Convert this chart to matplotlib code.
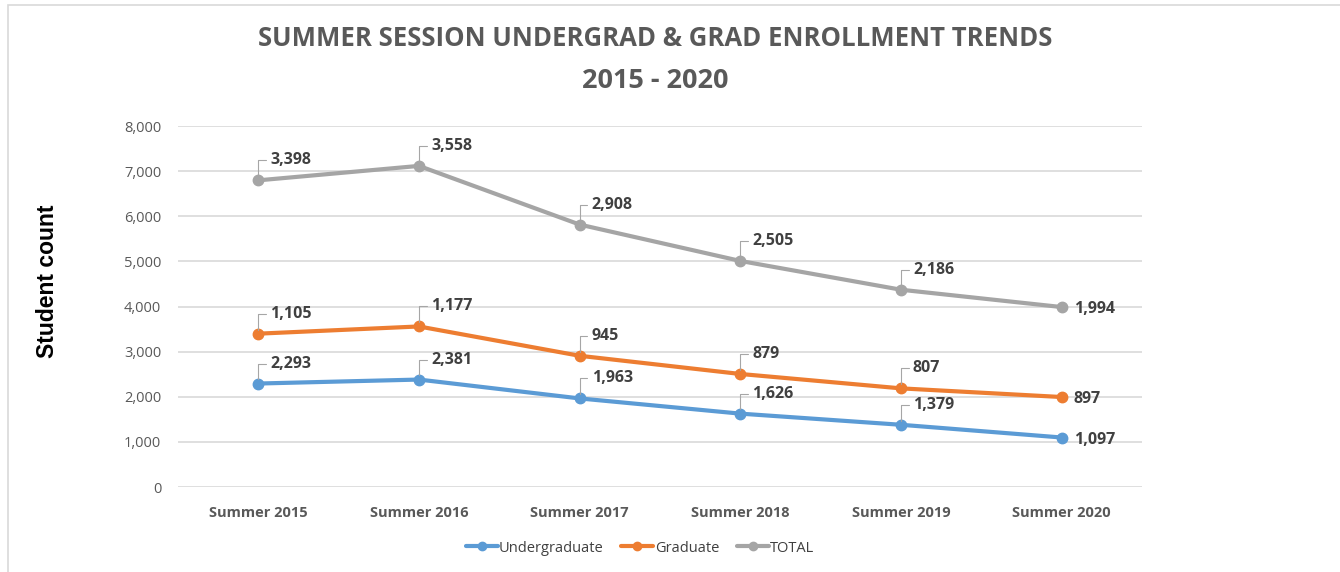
import matplotlib
matplotlib.use('Agg')
import matplotlib.pyplot as plt
from matplotlib.patches import Rectangle
from matplotlib.ticker import FuncFormatter
import numpy as np

# 数据
years = ['Summer 2015', 'Summer 2016', 'Summer 2017', 'Summer 2018', 'Summer 2019', 'Summer 2020']
undergrad = [2293, 2381, 1963, 1626, 1379, 1097]
graduate = [1105, 1177, 945, 879, 807, 897]
total = [3398, 3558, 2908, 2505, 2186, 1994]

names = ['Undergraduate', 'Graduate', 'TOTAL']
colors = ['#5B9BD5', '#ED7D31', '#A5A5A5']

narrow = ['Liberation Sans Narrow', 'Open Sans', 'DejaVu Sans']

fig = plt.figure(figsize=(13.4, 5.72), dpi=100)
ax = fig.add_axes([0.1328, 0.1486, 0.7194, 0.6311])

# Excel "stacked line": each series sits on top of the one before
x = np.arange(len(years))
series = [undergrad, graduate, total]
base = np.zeros(len(years))
for vals, name, c in zip(series, names, colors):
    top = base + np.array(vals)
    ax.plot(x, top, color=c, lw=3, marker='o', ms=7.5, label=name,
            solid_capstyle='round', zorder=3)
    for i, (xi, yi, v) in enumerate(zip(x, top, vals)):
        if i == len(years) - 1:
            ax.annotate(f'{v:,}', (xi, yi), xytext=(12, -2), textcoords='offset pixels',
                        ha='left', va='center', fontsize=11.5, fontweight='bold',
                        color='#404040', family=narrow)
        else:
            ax.annotate(f'{v:,}', (xi, yi), xytext=(12, 20), textcoords='offset pixels',
                        ha='left', va='center', fontsize=11.5, fontweight='bold',
                        color='#404040', family=narrow,
                        arrowprops=dict(arrowstyle='-', color='#A6A6A6', lw=0.8,
                                        shrinkA=1, shrinkB=3,
                                        connectionstyle='angle,angleA=0,angleB=90,rad=0'))
    base = top

ax.set_xlim(-0.5, len(years) - 0.5)
ax.set_ylim(0, 8000)
ax.set_yticks(range(0, 8001, 1000))
ax.yaxis.set_major_formatter(FuncFormatter(lambda v, p: f'{int(v):,}'))
ax.set_xticks(x)
ax.set_xticklabels(years, fontweight='bold', family=narrow, fontsize=10.5, color='#595959')
for t in ax.get_yticklabels():
    t.set_family(narrow)
    t.set_fontsize(10.5)
    t.set_color('#595959')
ax.tick_params(length=0, pad=12)
ax.tick_params(axis='x', pad=14)
ax.grid(axis='y', color='#D9D9D9', lw=1.2)
ax.set_axisbelow(True)
for s in ax.spines.values():
    s.set_visible(False)

fig.text(48 / 1340, 1 - 281 / 572, 'Student count', rotation=90, ha='center', va='center',
         fontsize=16.5, fontweight='bold', color='black', family='Liberation Sans')

fig.text(655 / 1340, 1 - 39 / 572, 'SUMMER SESSION UNDERGRAD & GRAD ENROLLMENT TRENDS',
         ha='center', va='center', fontsize=18.5, fontweight='bold', color='#595959', family=narrow)
fig.text(655 / 1340, 1 - 81 / 572, '2015 - 2020',
         ha='center', va='center', fontsize=19.5, fontweight='bold', color='#595959', family=narrow)

leg = fig.legend(loc='center', bbox_to_anchor=(640 / 1340, 1 - 548 / 572), ncol=3,
                 frameon=False, handlelength=2.2, handletextpad=0.1, columnspacing=1.2,
                 prop={'family': narrow, 'size': 10.5})
for t in leg.get_texts():
    t.set_color('#404040')
for h in leg.legend_handles:
    h.set_markersize(6)

fig.patches.append(Rectangle((8 / 1340, -0.1), 1.2, 1.1 - 5 / 572, transform=fig.transFigure,
                             fill=False, edgecolor='#D9D9D9', lw=1.2))

fig.savefig('out.png', dpi=100)
